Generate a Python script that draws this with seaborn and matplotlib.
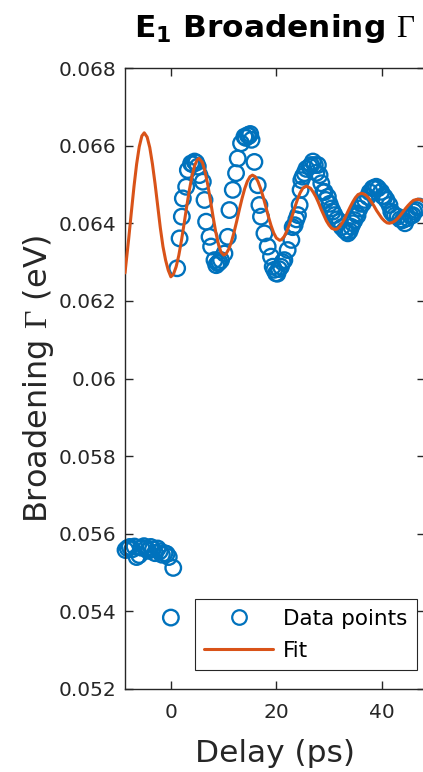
import matplotlib
matplotlib.use("Agg")
import matplotlib.pyplot as plt
from matplotlib.lines import Line2D
import pandas as pd
import seaborn as sns

# Measured broadening of the E1 transition versus pump-probe delay
delay_ps = [
    -8.6, -8.2, -7.8, -7.3, -6.9, -6.5, -6.0, -5.6, -5.1, -4.7,
    -4.3, -3.8, -3.4, -3.0, -2.5, -2.1, -1.7, -1.2, -0.8, -0.4,
    0.0, 0.45,
    1.19, 1.65, 2.08, 2.27, 2.90, 3.22, 3.84, 4.10, 4.49, 4.80,
    5.11, 5.43, 6.06, 6.38, 6.68, 7.33, 7.63, 8.27, 8.60, 8.90,
    9.20, 9.52, 10.16, 10.79, 11.11, 11.74, 12.36, 12.68, 13.31, 13.95,
    14.20, 14.57, 14.80, 15.05, 15.30, 15.84, 16.47, 16.79, 17.09, 17.74,
    18.36, 18.99, 19.31, 19.60, 19.93, 20.20, 20.50, 20.88, 21.20, 21.52,
    22.15, 22.85, 23.10, 23.47, 23.80, 24.10, 24.42, 24.60, 24.74, 25.00,
    25.36, 25.70, 26.31, 26.60, 26.94, 27.30, 27.60, 27.88, 28.20, 28.53,
    28.90, 29.15, 29.40, 29.77, 30.10, 30.42, 30.70, 31.04, 31.50, 31.99,
    32.40, 32.94, 33.20, 33.56, 33.90, 34.20, 34.50, 34.83, 35.15, 35.40,
    35.78, 36.10, 36.40, 36.80, 37.35, 37.70, 38.29, 38.60, 38.94, 39.30,
    39.88, 40.20, 40.51, 40.90, 41.45, 41.80, 42.08, 42.50, 43.03, 43.50,
    43.97, 44.40, 44.92, 45.40, 45.86, 46.10, 46.50, 46.80, 47.13,
]
broadening_ev = [
    0.05558, 0.05563, 0.05566, 0.05560, 0.05567, 0.05540, 0.05545, 0.05564, 0.05568, 0.05562,
    0.05556, 0.05566, 0.05560, 0.05550, 0.05562, 0.05555, 0.05546, 0.05550, 0.05548, 0.05540,
    0.05384, 0.05512,
    0.06284, 0.06361, 0.06417, 0.06464, 0.06494, 0.06537, 0.06554, 0.06552, 0.06559, 0.06556,
    0.06546, 0.06524, 0.06507, 0.06460, 0.06404, 0.06365, 0.06340, 0.06305, 0.06292, 0.06297,
    0.06300, 0.06305, 0.06322, 0.06365, 0.06434, 0.06486, 0.06529, 0.06567, 0.06606, 0.06623,
    0.06620, 0.06627, 0.06625, 0.06630, 0.06615, 0.06558, 0.06498, 0.06447, 0.06417, 0.06374,
    0.06340, 0.06314, 0.06288, 0.06280, 0.06271, 0.06270, 0.06282, 0.06288, 0.06300, 0.06305,
    0.06331, 0.06357, 0.06390, 0.06395, 0.06410, 0.06421, 0.06447, 0.06486, 0.06511, 0.06520,
    0.06529, 0.06540, 0.06546, 0.06550, 0.06559, 0.06550, 0.06530, 0.06550, 0.06524, 0.06503,
    0.06480, 0.06481, 0.06460, 0.06468, 0.06450, 0.06438, 0.06430, 0.06421, 0.06410, 0.06404,
    0.06390, 0.06382, 0.06380, 0.06374, 0.06380, 0.06391, 0.06400, 0.06408, 0.06425, 0.06420,
    0.06438, 0.06450, 0.06451, 0.06460, 0.06468, 0.06480, 0.06490, 0.06490, 0.06494, 0.06490,
    0.06481, 0.06470, 0.06468, 0.06460, 0.06447, 0.06430, 0.06425, 0.06420, 0.06417, 0.06410,
    0.06408, 0.06400, 0.06413, 0.06420, 0.06421, 0.06430, 0.06434, 0.06440, 0.06443,
]

# Damped-oscillation fit evaluated along the delay axis
fit_delay_ps = [
    -8.7, -8.0, -7.5, -7.0, -6.5, -6.0, -5.5, -5.05, -4.5, -4.0,
    -3.5, -3.0, -2.5, -2.0, -1.5, -1.0, -0.5, 0.0, 0.5, 1.0,
    1.5, 2.0, 2.5, 3.0, 3.5, 4.0, 4.5, 5.0, 5.36, 6.0,
    6.5, 7.0, 7.5, 8.0, 8.5, 9.0, 9.5, 10.03, 10.5, 11.0,
    11.5, 12.0, 12.5, 13.0, 13.5, 14.0, 14.5, 15.0, 15.47, 16.0,
    16.5, 17.0, 17.5, 18.0, 18.5, 19.0, 19.5, 20.0, 20.63, 21.0,
    21.5, 22.0, 22.5, 23.0, 23.5, 24.0, 24.5, 25.0, 25.68, 26.5,
    27.0, 27.5, 28.0, 28.5, 29.0, 29.5, 30.0, 30.5, 31.1, 31.5,
    32.0, 32.5, 33.0, 33.5, 34.0, 34.5, 35.0, 35.5, 36.1, 36.5,
    37.0, 37.5, 38.0, 38.5, 39.0, 39.5, 40.0, 40.5, 41.0, 41.45,
    42.0, 42.5, 43.0, 43.5, 44.0, 44.5, 45.0, 45.5, 46.0, 46.8,
    47.5, 48.1,
]
fit_broadening_ev = [
    0.06272, 0.06360, 0.06428, 0.06494, 0.06552, 0.06597, 0.06625, 0.06633, 0.06622, 0.06595,
    0.06553, 0.06502, 0.06445, 0.06388, 0.06340, 0.06305, 0.06279, 0.06262, 0.06269, 0.06288,
    0.06317, 0.06355, 0.06398, 0.06443, 0.06485, 0.06521, 0.06548, 0.06564, 0.06567, 0.06556,
    0.06532, 0.06499, 0.06459, 0.06417, 0.06378, 0.06347, 0.06326, 0.06318, 0.06322, 0.06334,
    0.06353, 0.06378, 0.06406, 0.06436, 0.06464, 0.06489, 0.06508, 0.06520, 0.06524, 0.06520,
    0.06508, 0.06490, 0.06468, 0.06443, 0.06417, 0.06394, 0.06375, 0.06362, 0.06356, 0.06358,
    0.06366, 0.06380, 0.06398, 0.06419, 0.06441, 0.06461, 0.06478, 0.06490, 0.06496, 0.06490,
    0.06480, 0.06468, 0.06453, 0.06436, 0.06421, 0.06406, 0.06395, 0.06387, 0.06384, 0.06385,
    0.06391, 0.06401, 0.06413, 0.06428, 0.06442, 0.06455, 0.06466, 0.06474, 0.06477, 0.06476,
    0.06472, 0.06465, 0.06455, 0.06445, 0.06433, 0.06423, 0.06413, 0.06406, 0.06401, 0.06400,
    0.06402, 0.06406, 0.06412, 0.06420, 0.06429, 0.06438, 0.06446, 0.06453, 0.06459, 0.06462,
    0.06460, 0.06455,
]

x_ticks = [0, 20, 40]
y_ticks = [0.052, 0.054, 0.056, 0.058, 0.060, 0.062, 0.064, 0.066, 0.068]
y_tick_labels = ["0.052", "0.054", "0.056", "0.058", "0.06", "0.062", "0.064", "0.066", "0.068"]

BLUE = "#0072BD"
ORANGE = "#D95319"
AXIS_GRAY = "#262626"

sns.set_theme(style="white")
plt.rcParams["font.family"] = ["DejaVu Sans"]
plt.rcParams["mathtext.fontset"] = "custom"
plt.rcParams["mathtext.rm"] = "Liberation Serif"
plt.rcParams["mathtext.bf"] = "DejaVu Sans:bold"

points = pd.DataFrame({"delay": delay_ps, "gamma": broadening_ev})
fit = pd.DataFrame({"delay": fit_delay_ps, "gamma": fit_broadening_ev})

fig = plt.figure(figsize=(4.23, 7.72), dpi=100)
ax = fig.add_axes([125 / 423, 83 / 772, 299.5 / 423, 621 / 772])

sns.scatterplot(data=points, x="delay", y="gamma", ax=ax, marker="o", s=125,
                facecolors="none", edgecolor=BLUE, linewidth=1.7,
                clip_on=False, zorder=2, legend=False)
sns.lineplot(data=fit, x="delay", y="gamma", ax=ax, color=ORANGE, linewidth=2.2,
             sort=False, estimator=None, zorder=3, legend=False)

ax.set_xlim(-8.7, 48.1)
ax.set_ylim(0.052, 0.068)
ax.set_xticks(x_ticks)
ax.set_xticklabels([str(t) for t in x_ticks])
ax.set_yticks(y_ticks)
ax.set_yticklabels(y_tick_labels)

for side in ["left", "right", "top", "bottom"]:
    ax.spines[side].set_visible(True)
    ax.spines[side].set_color(AXIS_GRAY)
    ax.spines[side].set_linewidth(1.0)

ax.tick_params(axis="both", which="major", direction="in", length=5.5, width=1.0,
               color=AXIS_GRAY, labelcolor=AXIS_GRAY, labelsize=14.5,
               top=True, right=True, bottom=True, left=True, pad=6)
ax.tick_params(axis="x", pad=10)

ax.set_xlabel("Delay (ps)", fontsize=22.5, color=AXIS_GRAY, labelpad=12)
ax.set_ylabel(r"Broadening $\Gamma$ (eV)", fontsize=23, color=AXIS_GRAY, labelpad=2)
ax.set_title(r"E$_\mathbf{1}$ Broadening $\Gamma$", fontsize=22.5, fontweight="bold",
             color="black", pad=22)

handles = [
    Line2D([], [], linestyle="none", marker="o", markersize=10.5, markerfacecolor="none",
           markeredgecolor=BLUE, markeredgewidth=1.6),
    Line2D([], [], color=ORANGE, linewidth=2.2),
]
leg = ax.legend(handles, ["Data points", "Fit"], loc="lower right",
                bbox_to_anchor=(0.975, 0.03), fontsize=15.5, frameon=True,
                fancybox=False, edgecolor=AXIS_GRAY, framealpha=1.0,
                handlelength=3.2, handletextpad=0.45, borderpad=0.45,
                labelspacing=0.55, borderaxespad=0.0)
leg.get_frame().set_linewidth(0.8)
for txt in leg.get_texts():
    txt.set_color("black")

fig.savefig("out.png", dpi=100)
